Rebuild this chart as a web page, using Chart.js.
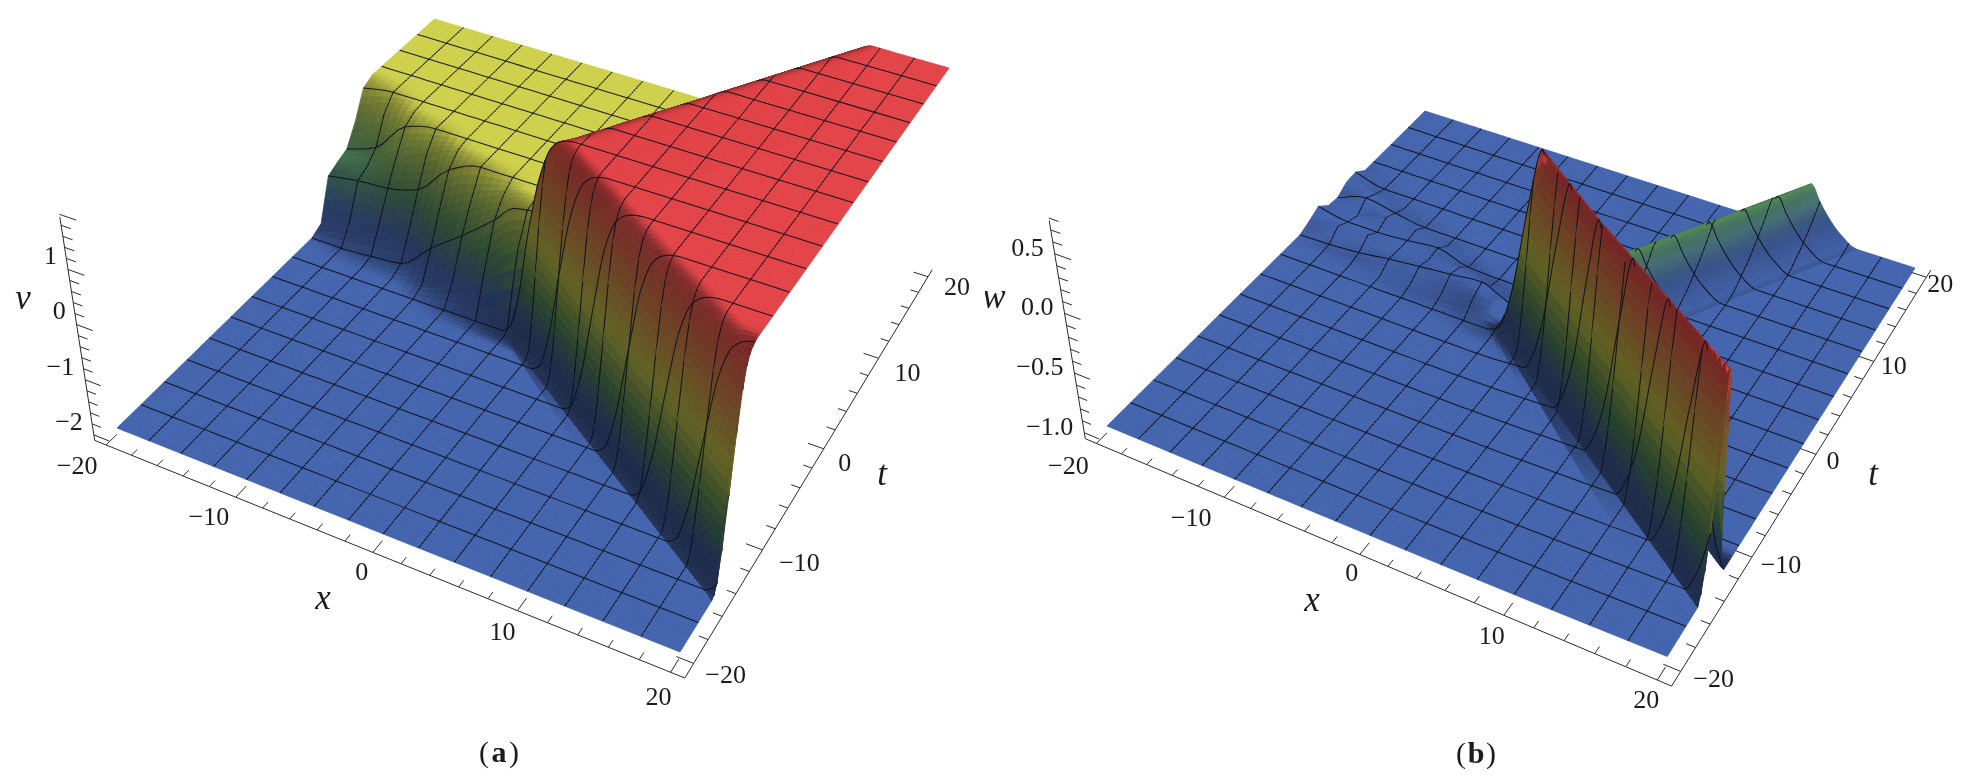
<!DOCTYPE html>
<html>
<head>
<meta charset="utf-8">
<title>Surface plots of v and w</title>
<script src="https://cdn.jsdelivr.net/npm/chart.js@4"></script>
<style>
  html, body { margin: 0; padding: 0; background: #fff; overflow: hidden; }
  canvas { position: absolute; top: 0; filter: blur(0.45px); }
</style>
</head>
<body>
<canvas id="chartA" width="985" height="781" style="left:0"></canvas>
<canvas id="chartB" width="985" height="781" style="left:985px"></canvas>
<script>
// surface (a): one profile per t row, left part plus the part across the steep wall
const tRows = [-20, -15, -10, -5, 0, 1.25, 2.5, 3.75, 5, 6.25, 7.5, 8.75, 10, 11.25, 15, 20];
const leftX = [-20, -17.5, -15, -12.5, -10, -7.5, -5, -3.5];

const wallXA = [
  [26.6, 27.25, 27.9, 28.5, 29.1, 29.75, 30.4, 31, 31.6],
  [19.2, 19.85, 20.5, 21.1, 21.7, 22.35, 23, 23.6, 24.2],
  [11.8, 12.45, 13.1, 13.7, 14.3, 14.95, 15.6, 16.2, 16.8],
  [4.35, 5, 5.65, 6.25, 6.85, 7.5, 8.15, 8.75, 9.35],
  [-3, -2.35, -1.7, -1.1, -0.3, 0.4, 1, 1.6, 2.2],
  [-1.15, -0.5, 0.15, 0.75, 1.35, 2, 2.65, 3.25, 3.85],
  [-0.35, 0.3, 0.95, 1.55, 2.15, 2.8, 3.45, 4.05, 4.65],
  [0.4, 1.05, 1.7, 2.3, 2.9, 3.55, 4.2, 4.8, 5.4],
  [1.2, 1.85, 2.5, 3.1, 3.7, 4.35, 5, 5.6, 6.2],
  [2, 2.65, 3.3, 3.9, 4.5, 5.15, 5.8, 6.4, 7],
  [2.8, 3.45, 4.1, 4.7, 5.3, 5.95, 6.6, 7.2, 7.8],
  [3.6, 4.25, 4.9, 5.5, 6.1, 6.75, 7.4, 8, 8.6],
  [4.35, 5, 5.65, 6.25, 6.85, 7.5, 8.15, 8.75, 9.35],
  [5.15, 5.8, 6.45, 7.05, 7.65, 8.3, 8.95, 9.55, 10.15],
  [7.5, 8.15, 8.8, 9.4, 10, 10.65, 11.3, 11.9, 12.5],
  [10.65, 11.3, 11.95, 12.55, 13.15, 13.8, 14.45, 15.05, 15.65]
];
const wallVA = [
  [-2, -1.9, -1.25, 0, 1.2, 1.75, 1.92, 1.98, 2],
  [-2, -1.9, -1.25, 0, 1.2, 1.75, 1.92, 1.98, 2],
  [-2, -1.9, -1.25, 0, 1.2, 1.75, 1.92, 1.98, 2],
  [-2, -1.9, -1.25, 0, 1.2, 1.75, 1.92, 1.98, 2],
  [-2, -1.9, -1.25, 0, 1.2, 1.75, 1.92, 1.98, 2],
  [-0.4, -0.2, 0.25, 1, 1.7, 1.93, 2, 2, 2],
  [0, 0, 0.25, 1, 1.7, 1.93, 2, 2, 2],
  [0, 0, 0.25, 1, 1.7, 1.93, 2, 2, 2],
  [0, 0, 0.25, 1, 1.7, 1.93, 2, 2, 2],
  [0, 0, 0.25, 1, 1.7, 1.93, 2, 2, 2],
  [0, 0, 0.25, 1, 1.7, 1.93, 2, 2, 2],
  [0, 0, 0.25, 1, 1.7, 1.93, 2, 2, 2],
  [0, 0, 0.25, 1, 1.7, 1.93, 2, 2, 2],
  [0, 0, 0.25, 1, 1.7, 1.93, 2, 2, 2],
  [0, 0, 0.25, 1, 1.7, 1.93, 2, 2, 2],
  [0, 0, 0.25, 1, 1.7, 1.93, 2, 2, 2]
];
const leftVA = [
  [-2, -2, -2, -2, -2, -2, -2, -2],
  [-2, -2, -2, -2, -2, -2, -2, -2],
  [-2, -2, -2, -2, -2, -2, -2, -2],
  [-2, -2, -2, -2, -2, -2, -2, -2],
  [-2, -2, -2, -2, -2, -2, -2, -2],
  [-2, -2, -2, -2, -1.9, -1.6, -1.2, -0.8],
  [-2, -2, -1.96, -1.9, -1.4, -0.95, -0.45, -0.1],
  [-1.9, -1.65, -1.5, -1.4, -0.8, -0.45, -0.15, 0],
  [-1.15, -1.05, -1, -0.83, -0.25, 0, 0, 0],
  [-1.05, -0.95, -0.55, -0.3, -0.05, 0, 0, 0],
  [-0.97, -0.75, -0.15, 0, 0, 0, 0, 0],
  [-0.6, -0.25, -0.03, 0, 0, 0, 0, 0],
  [-0.1, 0, 0, 0, 0, 0, 0, 0],
  [0, 0, 0, 0, 0, 0, 0, 0],
  [0, 0, 0, 0, 0, 0, 0, 0],
  [0, 0, 0, 0, 0, 0, 0, 0]
];

// surface (b)
const wallXB = [
  [25.75, 26.35, 27, 27.65, 28.25, 28.85, 29.5, 30.15, 31],
  [18.7, 19.3, 19.95, 20.6, 21.2, 21.8, 22.45, 23.1, 23.95],
  [11.65, 12.25, 12.9, 13.55, 14.15, 14.75, 15.4, 16.05, 16.9],
  [4.6, 5.2, 5.85, 6.5, 7.1, 7.7, 8.35, 9, 9.85],
  [-2.45, -1.85, -1.2, -0.3, 0.6, 1.2, 1.8, 2.45, 3.3],
  [-2, -1.4, -0.75, -0.1, 0.5, 1.25, 2, 3, 4.5],
  [-1.25, -0.65, 0, 0.65, 1.25, 2, 2.75, 3.75, 5.25],
  [-0.5, 0.1, 0.75, 1.4, 2, 2.75, 3.5, 4.5, 6],
  [0.25, 0.85, 1.5, 2.15, 2.75, 3.5, 4.25, 5.25, 6.75],
  [1, 1.6, 2.25, 2.9, 3.5, 4.25, 5, 6, 7.5],
  [1.75, 2.35, 3, 3.65, 4.25, 5, 5.75, 6.75, 8.25],
  [2.5, 3.1, 3.75, 4.4, 5, 5.75, 6.5, 7.5, 9],
  [3.25, 3.85, 4.5, 5.15, 5.75, 6.5, 7.25, 8.25, 9.75],
  [4, 4.6, 5.25, 5.9, 6.5, 7.25, 8, 9, 10.5],
  [6.25, 6.85, 7.5, 8.15, 8.75, 9.5, 10.25, 11.25, 12.75],
  [9.2, 9.8, 10.45, 11.1, 11.7, 12.45, 13.2, 14.2, 15.7]
];
const wallVB = [
  [-0.97, -0.84, -0.51, 0.21, 0.75, 0.21, -0.51, -0.84, -1],
  [-0.97, -0.84, -0.51, 0.21, 0.75, 0.21, -0.51, -0.84, -1],
  [-0.97, -0.84, -0.51, 0.21, 0.75, 0.21, -0.51, -0.84, -1],
  [-0.97, -0.84, -0.51, 0.21, 0.75, 0.21, -0.51, -0.84, -1],
  [-0.97, -0.84, -0.51, 0.21, 0.75, 0.21, -0.51, -0.84, -1],
  [-0.97, -0.92, -0.8, -0.62, -0.42, -0.56, -0.74, -0.9, -1],
  [-1, -0.97, -0.9, -0.75, -0.53, -0.66, -0.78, -0.9, -1],
  [-1, -0.97, -0.9, -0.75, -0.53, -0.66, -0.78, -0.9, -1],
  [-1, -0.97, -0.9, -0.75, -0.53, -0.66, -0.78, -0.9, -1],
  [-1, -0.97, -0.9, -0.75, -0.53, -0.66, -0.78, -0.9, -1],
  [-1, -0.97, -0.9, -0.75, -0.53, -0.66, -0.78, -0.9, -1],
  [-1, -0.97, -0.9, -0.75, -0.53, -0.66, -0.78, -0.9, -1],
  [-1, -0.97, -0.9, -0.75, -0.53, -0.66, -0.78, -0.9, -1],
  [-1, -0.97, -0.9, -0.75, -0.53, -0.66, -0.78, -0.9, -1],
  [-1, -0.97, -0.9, -0.75, -0.53, -0.66, -0.78, -0.9, -1],
  [-1, -0.97, -0.9, -0.75, -0.53, -0.66, -0.78, -0.9, -1]
];
const leftVB = [
  [-1, -1, -1, -1, -1, -1, -1, -1],
  [-1, -1, -1, -1, -1, -1, -1, -1],
  [-1, -1, -1, -1, -1, -1, -1, -1],
  [-1, -1, -1, -1, -1, -1, -1, -1],
  [-1, -1, -1, -1, -1, -1, -1, -1],
  [-1, -1, -1, -1, -0.97, -0.96, -0.9, -0.85],
  [-1, -0.99, -0.97, -0.93, -0.9, -0.87, -0.84, -0.91],
  [-0.96, -0.91, -0.9, -0.94, -0.93, -0.9, -0.97, -1],
  [-0.91, -0.96, -0.96, -0.94, -0.91, -0.99, -1, -1],
  [-0.99, -0.99, -0.91, -0.93, -0.99, -1, -1, -1],
  [-1, -0.91, -0.96, -1, -1, -1, -1, -1],
  [-0.94, -0.96, -1, -1, -1, -1, -1, -1],
  [-0.93, -1, -1, -1, -1, -1, -1, -1],
  [-1, -1, -1, -1, -1, -1, -1, -1],
  [-1, -1, -1, -1, -1, -1, -1, -1],
  [-1, -1, -1, -1, -1, -1, -1, -1]
];

// axis ticks
const xTicks = [-20, -10, 0, 10, 20];
const tTicks = [-20, -10, 0, 10, 20];
const vTicks = [-2, -1, 0, 1];
const vTickLabels = ['\u22122', '\u22121', '0', '1'];
const wTicks = [-1, -0.5, 0, 0.5];
const wTickLabels = ['\u22121.0', '\u22120.5', '0.0', '0.5'];

const colorStops = [
  [0, 68, 100, 173],
  [0.1, 68, 100, 173],
  [0.26, 88, 146, 100],
  [0.5, 206, 208, 76],
  [1, 226, 68, 72]
];

const ROWS = 128;       // fine rows between t = -20 and t = 20
const MESH_EVERY = 8;   // a t line every 2.5 units
const meshX = [-17.5, -15, -12.5, -10, -7.5, -5, -2.5, 0, 2.5, 5, 7.5, 10, 12.5, 15, 17.5];

const panelA = {
  canvas: 'chartA', xMin: 0, xMax: 985,
  wallX: wallXA, wallV: wallVA, leftV: leftVA,
  zLow: -2, zHigh: 2, heightScale: 1.6,
  floor: [[117, 428], [680, 652], [917, 268], [436, 117]],
  ceil: [[85, 208], [699, 420], [949, 68], [433, -79]],
  zTicks: vTicks, zLabels: vTickLabels, zAxis: [-2.1, 1.95], zStep: 0.2, zMajorEvery: 5,
  zName: 'v', zNamePos: [23, 300], xNamePos: [323, 600], tNamePos: [882, 476],
  caption: 'a', captionPos: [499, 754],
  zLabelOffset: [-11, -12],
  xNudge: [[5, 1], [7, 0], [23, 0], [19, 2], [22, 5]],
  tNudge: [[-5, 20], [0, 21], [-16, 22], [-8, 23], [-8, 18]]
};
const panelB = {
  canvas: 'chartB', xMin: 985, xMax: 1970,
  wallX: wallXB, wallV: wallVB, leftV: leftVB,
  zLow: -1, zHigh: 0.75, heightScale: 5,
  floor: [[1107, 426], [1667, 659], [1915, 268], [1425, 111]],
  ceil: [[1075, 218], [1686, 431], [1944, 83], [1422, -64]],
  zTicks: wTicks, zLabels: wTickLabels, zAxis: [-1.05, 0.78], zStep: 0.1, zMajorEvery: 5,
  zName: 'w', zNamePos: [994, 299], xNamePos: [1312, 602], tNamePos: [1873, 476],
  caption: 'b', captionPos: [1476, 755],
  zLabelOffset: [-11, -5],
  xNudge: [[6, 3], [1, 1], [26, -1], [22, 1], [23, 0]],
  tNudge: [[-4, 16], [-8, 16], [-20, 15], [-17, 13], [-23, 15]]
};

function homography(q) {
  const [x0, y0] = q[0], [x1, y1] = q[1], [x2, y2] = q[2], [x3, y3] = q[3];
  const dx1 = x1 - x2, dx2 = x3 - x2, sx = x0 - x1 + x2 - x3;
  const dy1 = y1 - y2, dy2 = y3 - y2, sy = y0 - y1 + y2 - y3;
  const det = dx1 * dy2 - dx2 * dy1;
  const g = (sx * dy2 - dx2 * sy) / det;
  const h = (dx1 * sy - sx * dy1) / det;
  return (u, v) => {
    const w = g * u + h * v + 1;
    return [((x1 - x0 + g * x1) * u + (x3 - x0 + h * x3) * v + x0) / w,
            ((y1 - y0 + g * y1) * u + (y3 - y0 + h * y3) * v + y0) / w];
  };
}

function makeProjector(panel) {
  const low = homography(panel.floor);
  const high = homography(panel.ceil);
  return (x, t, z) => {
    const u = (x + 20) / 40, v = (t + 20) / 40;
    const f = (z - panel.zLow) / (panel.zHigh - panel.zLow);
    const a = low(u, v), b = high(u, v);
    return { x: a[0] + (b[0] - a[0]) * f, y: a[1] + (b[1] - a[1]) * f };
  };
}

// monotone cubic through one row's nodes
function rowSampler(xs, vs) {
  const n = xs.length, d = [], m = [];
  for (let k = 0; k < n - 1; k++) d.push((vs[k + 1] - vs[k]) / (xs[k + 1] - xs[k]));
  m[0] = d[0];
  m[n - 1] = d[n - 2];
  for (let k = 1; k < n - 1; k++) {
    m[k] = d[k - 1] * d[k] <= 0 ? 0 : 2 * d[k - 1] * d[k] / (d[k - 1] + d[k]);
  }
  return (x) => {
    let k = 0;
    while (k < n - 2 && x > xs[k + 1]) k++;
    const w = xs[k + 1] - xs[k], s = Math.min(1, Math.max(0, (x - xs[k]) / w));
    const s2 = s * s, s3 = s2 * s;
    return (2 * s3 - 3 * s2 + 1) * vs[k] + (s3 - 2 * s2 + s) * w * m[k] +
           (3 * s2 - 2 * s3) * vs[k + 1] + (s3 - s2) * w * m[k + 1];
  };
}

// how many pieces each gap between two row nodes is cut into
function gapPieces(k) {
  if (k < 7) return 4;
  if (k === 7) return 8;
  if (k < 16) return 7;
  return 8;
}

// fine cells follow the wall from row to row, so the ridge keeps its height
function buildSurface(panel) {
  const rowsX = tRows.map((t, r) => leftX.concat(panel.wallX[r], [60]));
  const rowsV = tRows.map((t, r) => panel.leftV[r].concat(panel.wallV[r], [panel.wallV[r][8]]));
  const gridX = [], gridV = [], meshV = [], samplers = [];
  for (let j = 0; j <= ROWS; j++) {
    const t = -20 + 40 * j / ROWS;
    let r = 0;
    while (r < tRows.length - 2 && t > tRows[r + 1]) r++;
    const f = (t - tRows[r]) / (tRows[r + 1] - tRows[r]);
    const xs = rowsX[r].map((x, k) => x + (rowsX[r + 1][k] - x) * f);
    const vs = rowsV[r].map((v, k) => v + (rowsV[r + 1][k] - v) * f);
    const sample = rowSampler(xs, vs);
    const rowX = [], rowV = [];
    for (let k = 0; k < xs.length - 1; k++) {
      const pieces = gapPieces(k);
      for (let p = 0; p < pieces; p++) {
        const x = Math.min(20, xs[k] + (xs[k + 1] - xs[k]) * p / pieces);
        rowX.push(x);
        rowV.push(sample(x));
      }
    }
    rowX.push(20);
    rowV.push(sample(20));
    gridX.push(rowX);
    gridV.push(rowV);
    samplers.push(sample);
    meshV.push(meshX.map(x => sample(x)));
  }
  return { gridX, gridV, meshV, samplers };
}

function heightColor(u, slope) {
  let s = 0;
  while (s < colorStops.length - 2 && u > colorStops[s + 1][0]) s++;
  const a = colorStops[s], b = colorStops[s + 1];
  const f = Math.min(1, Math.max(0, (u - a[0]) / (b[0] - a[0])));
  const light = 0.42 + 0.1 * u + (0.58 - 0.1 * u) / (1 + (slope / 0.7) * (slope / 0.7));
  const c = [1, 2, 3].map(k => Math.round((a[k] + (b[k] - a[k]) * f) * light));
  return `rgb(${c[0]},${c[1]},${c[2]})`;
}

// paints the cells far to near, from the points the chart placed with its scales
const surfacePlugin = {
  id: 'surfacePaint',
  beforeDatasetsDraw(chart) {
    const { panel, surface } = chart.options.plugins.surfacePaint;
    const { gridX, gridV, samplers } = surface;
    const pts = chart.getDatasetMeta(0).data;
    const lines = chart.getDatasetMeta(1).data;
    const ctx = chart.ctx;
    const n = gridX[0].length;
    const span = panel.zHigh - panel.zLow;
    const dt = 40 / ROWS;
    const at = (i, j) => pts[j * n + i];
    const lineColor = 'rgba(12,16,26,0.92)';
    ctx.save();
    ctx.lineJoin = 'round';
    for (let j = ROWS - 1; j >= 0; j--) {
      const jHi = Math.min(ROWS, j + 6), jLo = Math.max(0, j - 5);
      for (let i = 0; i < n - 1; i++) {
        const dx1 = (gridX[j][i + 1] - gridX[j][i] + gridX[j + 1][i + 1] - gridX[j + 1][i]) / 2;
        if (dx1 < 1e-6) continue;
        const a = at(i, j), b = at(i + 1, j), c = at(i + 1, j + 1), d = at(i, j + 1);
        const h00 = gridV[j][i], h10 = gridV[j][i + 1], h11 = gridV[j + 1][i + 1], h01 = gridV[j + 1][i];
        const zx = (h10 - h00 + h11 - h01) / 2 / dx1;
        // slope over a wider window, the shading of the surface is soft
        const mid = (gridX[j][i] + gridX[j][i + 1]) / 2;
        const wide = (samplers[j](mid + 1.4) - samplers[j](mid - 1.4)) / 2.8;
        const zt = (gridV[jHi][i] - gridV[jLo][i] - zx * (gridX[jHi][i] - gridX[jLo][i])) / ((jHi - jLo) * dt);
        // flanks turned towards +x catch the light
        const fall = -zx * panel.heightScale * 2.5 / 0.8;
        const facing = 1 - 0.75 * Math.min(1, Math.max(0, fall));
        const slope = facing * panel.heightScale * 2.5 * Math.sqrt(wide * wide + zt * zt);
        const col = heightColor(((h00 + h10 + h11 + h01) / 4 - panel.zLow) / span, slope);
        ctx.beginPath();
        ctx.moveTo(a.x, a.y);
        ctx.lineTo(b.x, b.y);
        ctx.lineTo(c.x, c.y);
        ctx.lineTo(d.x, d.y);
        ctx.closePath();
        ctx.fillStyle = col;
        ctx.strokeStyle = col;
        ctx.lineWidth = 0.8;
        ctx.fill();
        ctx.stroke();
      }
      ctx.strokeStyle = lineColor;
      ctx.lineWidth = 1.05;
      // x lines through this strip of cells
      ctx.beginPath();
      for (let m = 0; m < meshX.length; m++) {
        const p = lines[j * meshX.length + m], q = lines[(j + 1) * meshX.length + m];
        ctx.moveTo(p.x, p.y);
        ctx.lineTo(q.x, q.y);
      }
      ctx.stroke();
      // t line on the far edge of this strip
      if ((j + 1) % MESH_EVERY === 0 && j + 1 < ROWS) {
        ctx.beginPath();
        for (let i = 0; i < n; i++) {
          const p = at(i, j + 1);
          if (i === 0) ctx.moveTo(p.x, p.y);
          else ctx.lineTo(p.x, p.y);
        }
        ctx.stroke();
      }
    }
    ctx.restore();
  }
};

const labelPlugin = {
  id: 'axisText',
  afterDatasetsDraw(chart) {
    const opts = chart.options.plugins.axisText;
    const ctx = chart.ctx;
    const sx = chart.scales.x, sy = chart.scales.y;
    ctx.save();
    ctx.fillStyle = '#1c1c1c';
    ctx.textBaseline = 'middle';
    opts.items.forEach(item => {
      ctx.font = item.font;
      ctx.textAlign = item.align || 'center';
      ctx.fillText(item.text, sx.getPixelForValue(item.x), sy.getPixelForValue(item.y));
    });
    ctx.restore();
  }
};

function axisSegments(panel, project) {
  const segs = [];
  const x0 = -20.9, x1 = 20.9, t0 = -21.2, z0 = panel.zAxis[0];
  const push = (a, b) => segs.push(a, b, { x: NaN, y: NaN });
  push(project(x0, t0, z0), project(x1, t0, z0));
  push(project(x1, t0, z0), project(x1, 20.9, z0));
  push(project(x0, t0, z0), project(x0, t0, panel.zAxis[1]));
  for (let k = -20; k <= 20; k += 2) {
    const len = k % 10 === 0 ? 1.1 : 0.6;
    push(project(k, t0, z0), project(k, t0 + len, z0));
    push(project(x1, k, z0), project(x1 - len, k, z0));
  }
  const steps = Math.round((panel.zAxis[1] - panel.zLow) / panel.zStep);
  for (let k = 0; k <= steps; k++) {
    const z = panel.zLow + k * panel.zStep;
    const len = k % panel.zMajorEvery === 0 ? 1.2 : 0.7;
    push(project(x0, t0, z), project(x0 + len, t0, z));
  }
  return segs;
}

function axisTexts(panel, project) {
  const numFont = '26px "Liberation Serif"';
  const nameFont = 'italic 35px "Liberation Serif"';
  const capFont = '30px "Liberation Serif"';
  const items = [];
  const num = n => (n < 0 ? '\u2212' : '') + Math.abs(n);
  xTicks.forEach((v, k) => {
    const p = project(v, -21.2, panel.zAxis[0]);
    items.push({ text: num(v), x: p.x - 34 + panel.xNudge[k][0], y: p.y + 21 + panel.xNudge[k][1], font: numFont });
  });
  tTicks.forEach((v, k) => {
    const p = project(20.9, v, panel.zAxis[0]);
    items.push({ text: num(v), x: p.x + 37 + panel.tNudge[k][0], y: p.y - 7 + panel.tNudge[k][1], font: numFont });
  });
  panel.zTicks.forEach((v, k) => {
    const p = project(-20.9, -21.2, v);
    items.push({ text: panel.zLabels[k], x: p.x + panel.zLabelOffset[0], y: p.y + panel.zLabelOffset[1], font: numFont, align: 'right' });
  });
  items.push({ text: panel.zName, x: panel.zNamePos[0], y: panel.zNamePos[1], font: nameFont });
  items.push({ text: 'x', x: panel.xNamePos[0], y: panel.xNamePos[1], font: nameFont });
  items.push({ text: 't', x: panel.tNamePos[0], y: panel.tNamePos[1], font: nameFont });
  items.push({ text: '(', x: panel.captionPos[0] - 15, y: panel.captionPos[1], font: capFont });
  items.push({ text: panel.caption, x: panel.captionPos[0], y: panel.captionPos[1], font: 'bold ' + capFont });
  items.push({ text: ')', x: panel.captionPos[0] + 15, y: panel.captionPos[1], font: capFont });
  return items;
}

function drawPanel(panel) {
  const project = makeProjector(panel);
  const surface = buildSurface(panel);
  const nodes = [], meshNodes = [];
  surface.gridX.forEach((rowX, j) => {
    const t = -20 + 40 * j / ROWS;
    rowX.forEach((x, i) => nodes.push(project(x, t, surface.gridV[j][i])));
    meshX.forEach((x, m) => meshNodes.push(project(x, t, surface.meshV[j][m])));
  });
  new Chart(document.getElementById(panel.canvas), {
    type: 'scatter',
    data: {
      datasets: [
        { data: nodes, pointRadius: 0, showLine: false },
        { data: meshNodes, pointRadius: 0, showLine: false },
        { data: axisSegments(panel, project), pointRadius: 0, showLine: true, borderColor: '#2a2a2a', borderWidth: 1, spanGaps: false }
      ]
    },
    options: {
      responsive: false,
      animation: false,
      events: [],
      layout: { padding: 0 },
      scales: {
        x: { type: 'linear', display: false, min: panel.xMin, max: panel.xMax },
        y: { type: 'linear', display: false, min: 0, max: 781, reverse: true }
      },
      plugins: {
        legend: { display: false },
        tooltip: { enabled: false },
        surfacePaint: { panel, surface },
        axisText: { items: axisTexts(panel, project) }
      }
    },
    plugins: [surfacePlugin, labelPlugin]
  });
}

drawPanel(panelA);
drawPanel(panelB);
</script>
</body>
</html>
